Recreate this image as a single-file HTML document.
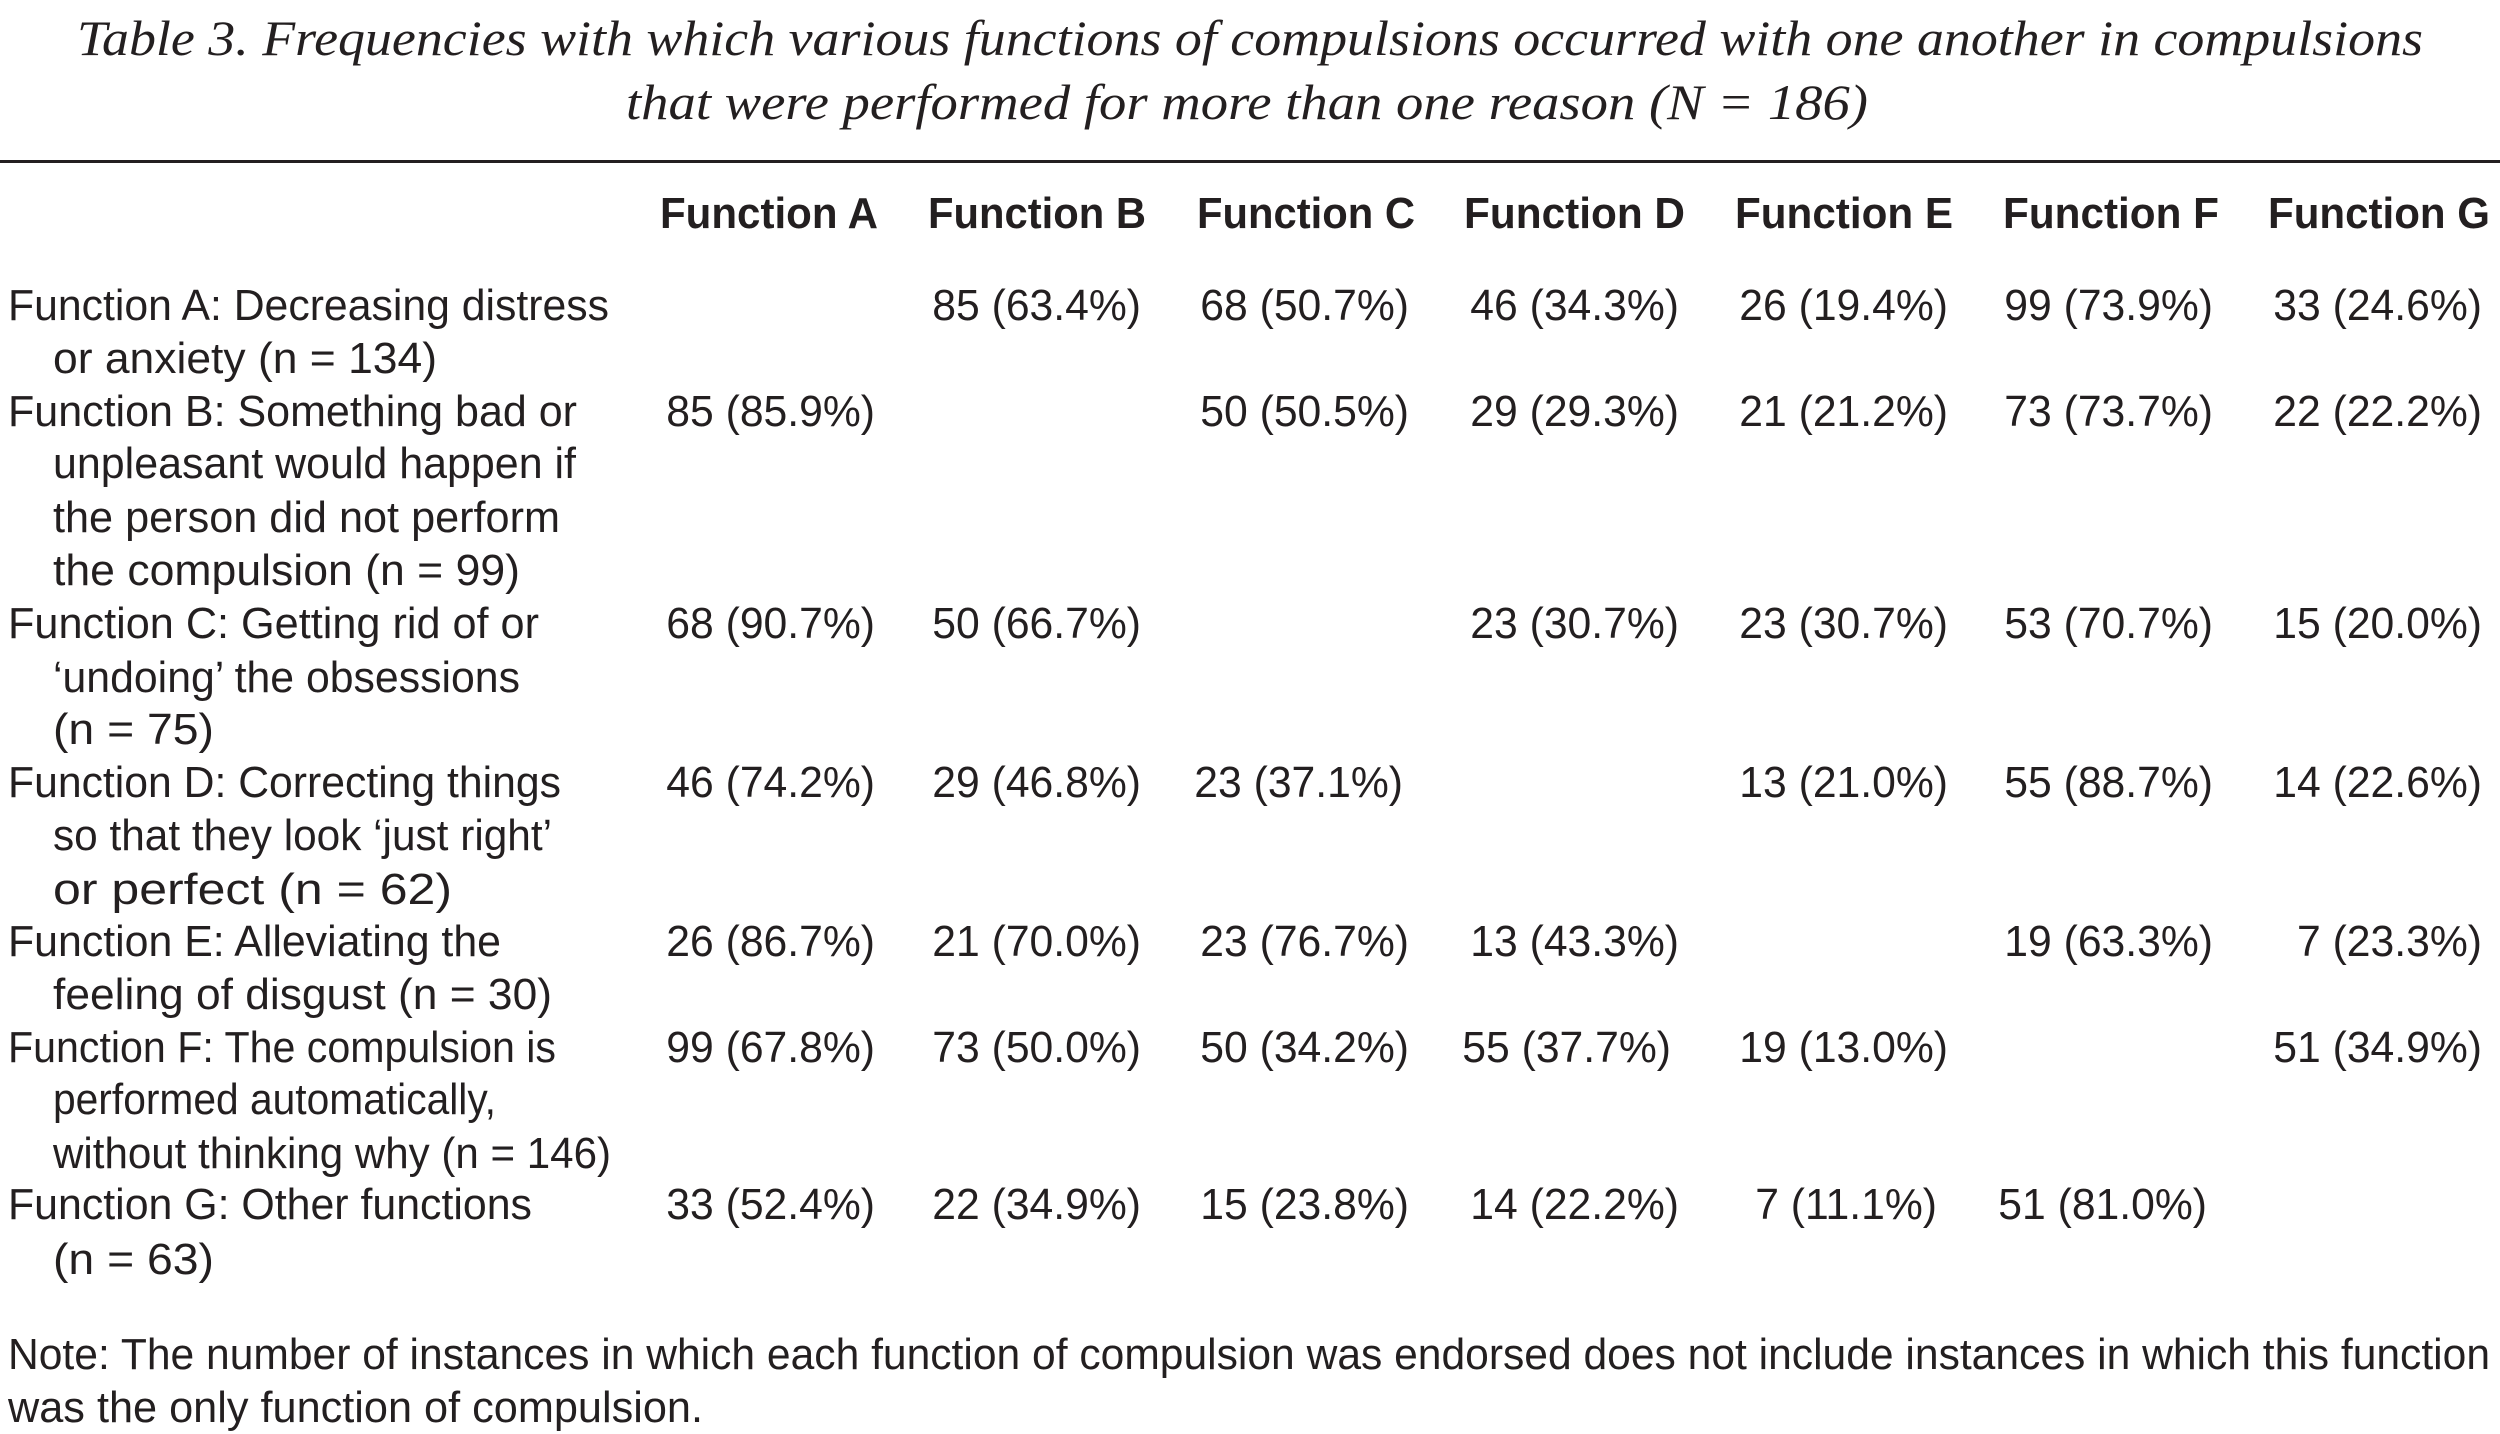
<!DOCTYPE html>
<html><head><meta charset="utf-8"><style>
html,body{margin:0;padding:0;background:#fff;}
svg{display:block;}
.t{font-family:"Liberation Serif",serif;font-style:italic;font-size:50px;fill:#231f20;}
.h{font-family:"Liberation Sans",sans-serif;font-weight:bold;font-size:44px;fill:#231f20;}
.l{font-family:"Liberation Sans",sans-serif;font-size:44px;fill:#231f20;}
</style></head><body>
<svg width="2500" height="1434" viewBox="0 0 2500 1434" xmlns="http://www.w3.org/2000/svg">
<text class="t" x="77" y="55" textLength="2346" lengthAdjust="spacingAndGlyphs">Table 3. Frequencies with which various functions of compulsions occurred with one another in compulsions</text>
<text class="t" x="626" y="119" textLength="1242" lengthAdjust="spacingAndGlyphs">that were performed for more than one reason (N = 186)</text>
<rect x="0" y="160" width="2500" height="3" fill="#231f20"/>
<g class="h">
<text x="660" y="228" textLength="218" lengthAdjust="spacingAndGlyphs">Function A</text>
<text x="928" y="228" textLength="218" lengthAdjust="spacingAndGlyphs">Function B</text>
<text x="1197" y="228" textLength="218" lengthAdjust="spacingAndGlyphs">Function C</text>
<text x="1464" y="228" textLength="221" lengthAdjust="spacingAndGlyphs">Function D</text>
<text x="1735" y="228" textLength="218" lengthAdjust="spacingAndGlyphs">Function E</text>
<text x="2003" y="228" textLength="216" lengthAdjust="spacingAndGlyphs">Function F</text>
<text x="2268" y="228" textLength="222" lengthAdjust="spacingAndGlyphs">Function G</text>
</g>
<g class="l">
<text x="8" y="320" textLength="601" lengthAdjust="spacingAndGlyphs">Function A: Decreasing distress</text>
<text x="53" y="373" textLength="384" lengthAdjust="spacingAndGlyphs">or anxiety (n = 134)</text>
<text x="8" y="426" textLength="569" lengthAdjust="spacingAndGlyphs">Function B: Something bad or</text>
<text x="53" y="478" textLength="523" lengthAdjust="spacingAndGlyphs">unpleasant would happen if</text>
<text x="53" y="532" textLength="507" lengthAdjust="spacingAndGlyphs">the person did not perform</text>
<text x="53" y="585" textLength="467" lengthAdjust="spacingAndGlyphs">the compulsion (n = 99)</text>
<text x="8" y="638" textLength="531" lengthAdjust="spacingAndGlyphs">Function C: Getting rid of or</text>
<text x="53" y="692" textLength="467" lengthAdjust="spacingAndGlyphs">‘undoing’ the obsessions</text>
<text x="53" y="744" textLength="161" lengthAdjust="spacingAndGlyphs">(n = 75)</text>
<text x="8" y="797" textLength="553" lengthAdjust="spacingAndGlyphs">Function D: Correcting things</text>
<text x="53" y="850" textLength="499" lengthAdjust="spacingAndGlyphs">so that they look ‘just right’</text>
<text x="53" y="904" textLength="399" lengthAdjust="spacingAndGlyphs">or perfect (n = 62)</text>
<text x="8" y="956" textLength="493" lengthAdjust="spacingAndGlyphs">Function E: Alleviating the</text>
<text x="53" y="1009" textLength="499" lengthAdjust="spacingAndGlyphs">feeling of disgust (n = 30)</text>
<text x="8" y="1062" textLength="548" lengthAdjust="spacingAndGlyphs">Function F: The compulsion is</text>
<text x="53" y="1114" textLength="443" lengthAdjust="spacingAndGlyphs">performed automatically,</text>
<text x="53" y="1168" textLength="558" lengthAdjust="spacingAndGlyphs">without thinking why (n = 146)</text>
<text x="8" y="1219" textLength="524" lengthAdjust="spacingAndGlyphs">Function G: Other functions</text>
<text x="53" y="1274" textLength="161" lengthAdjust="spacingAndGlyphs">(n = 63)</text>
<text x="8" y="1369" textLength="2482" lengthAdjust="spacingAndGlyphs">Note: The number of instances in which each function of compulsion was endorsed does not include instances in which this function</text>
<text x="8" y="1422" textLength="695" lengthAdjust="spacingAndGlyphs">was the only function of compulsion.</text>
</g>
<g class="l" text-anchor="end">
<text transform="translate(1141,320) scale(0.97,1)">85 (63.4%)</text>
<text transform="translate(1409,320) scale(0.97,1)">68 (50.7%)</text>
<text transform="translate(1679,320) scale(0.97,1)">46 (34.3%)</text>
<text transform="translate(1948,320) scale(0.97,1)">26 (19.4%)</text>
<text transform="translate(2213,320) scale(0.97,1)">99 (73.9%)</text>
<text transform="translate(2482,320) scale(0.97,1)">33 (24.6%)</text>
<text transform="translate(875,426) scale(0.97,1)">85 (85.9%)</text>
<text transform="translate(1409,426) scale(0.97,1)">50 (50.5%)</text>
<text transform="translate(1679,426) scale(0.97,1)">29 (29.3%)</text>
<text transform="translate(1948,426) scale(0.97,1)">21 (21.2%)</text>
<text transform="translate(2213,426) scale(0.97,1)">73 (73.7%)</text>
<text transform="translate(2482,426) scale(0.97,1)">22 (22.2%)</text>
<text transform="translate(875,638) scale(0.97,1)">68 (90.7%)</text>
<text transform="translate(1141,638) scale(0.97,1)">50 (66.7%)</text>
<text transform="translate(1679,638) scale(0.97,1)">23 (30.7%)</text>
<text transform="translate(1948,638) scale(0.97,1)">23 (30.7%)</text>
<text transform="translate(2213,638) scale(0.97,1)">53 (70.7%)</text>
<text transform="translate(2482,638) scale(0.97,1)">15 (20.0%)</text>
<text transform="translate(875,797) scale(0.97,1)">46 (74.2%)</text>
<text transform="translate(1141,797) scale(0.97,1)">29 (46.8%)</text>
<text transform="translate(1403,797) scale(0.97,1)">23 (37.1%)</text>
<text transform="translate(1948,797) scale(0.97,1)">13 (21.0%)</text>
<text transform="translate(2213,797) scale(0.97,1)">55 (88.7%)</text>
<text transform="translate(2482,797) scale(0.97,1)">14 (22.6%)</text>
<text transform="translate(875,956) scale(0.97,1)">26 (86.7%)</text>
<text transform="translate(1141,956) scale(0.97,1)">21 (70.0%)</text>
<text transform="translate(1409,956) scale(0.97,1)">23 (76.7%)</text>
<text transform="translate(1679,956) scale(0.97,1)">13 (43.3%)</text>
<text transform="translate(2213,956) scale(0.97,1)">19 (63.3%)</text>
<text transform="translate(2482,956) scale(0.97,1)">7 (23.3%)</text>
<text transform="translate(875,1062) scale(0.97,1)">99 (67.8%)</text>
<text transform="translate(1141,1062) scale(0.97,1)">73 (50.0%)</text>
<text transform="translate(1409,1062) scale(0.97,1)">50 (34.2%)</text>
<text transform="translate(1671,1062) scale(0.97,1)">55 (37.7%)</text>
<text transform="translate(1948,1062) scale(0.97,1)">19 (13.0%)</text>
<text transform="translate(2482,1062) scale(0.97,1)">51 (34.9%)</text>
<text transform="translate(875,1219) scale(0.97,1)">33 (52.4%)</text>
<text transform="translate(1141,1219) scale(0.97,1)">22 (34.9%)</text>
<text transform="translate(1409,1219) scale(0.97,1)">15 (23.8%)</text>
<text transform="translate(1679,1219) scale(0.97,1)">14 (22.2%)</text>
<text transform="translate(1937,1219) scale(0.97,1)">7 (11.1%)</text>
<text transform="translate(2207,1219) scale(0.97,1)">51 (81.0%)</text>
</g>
</svg>
</body></html>
